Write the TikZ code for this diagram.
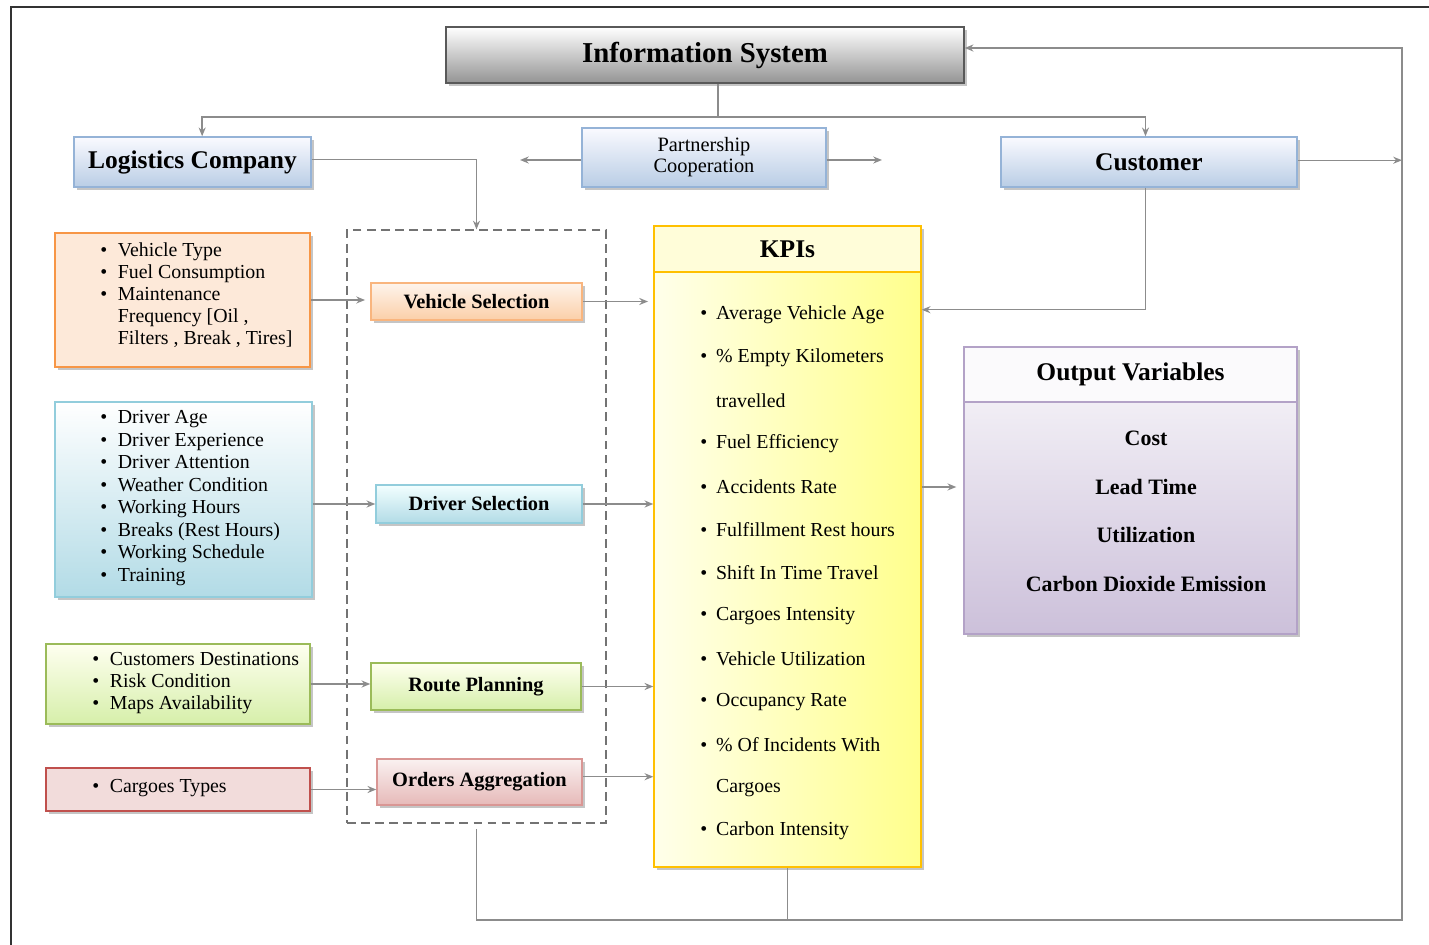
\documentclass[tikz,border=0pt]{standalone}
\usepackage{fontspec}
\setmainfont{Liberation Serif}
\usetikzlibrary{arrows.meta,shadows}

% palette
\definecolor{linegray}{HTML}{8C8C8C}
\definecolor{framegray}{HTML}{333333}
\definecolor{blueedge}{HTML}{95B3D7}
\definecolor{bluelow}{HTML}{B9CDE5}
\definecolor{orangeedge}{HTML}{F79646}
\definecolor{orangefill}{HTML}{FDE9D9}
\definecolor{orangelow}{HTML}{FBCFA8}
\definecolor{cyanedge}{HTML}{92CDDC}
\definecolor{cyanlow}{HTML}{B2DBE6}
\definecolor{greenedge}{HTML}{9BBB59}
\definecolor{greenlow}{HTML}{D6EFAA}
\definecolor{redfill}{HTML}{F2DCDB}
\definecolor{rededge}{HTML}{C0504D}
\definecolor{redlow}{HTML}{E6B9B8}
\definecolor{kpiedge}{HTML}{FFC000}
\definecolor{kpihigh}{HTML}{FFFF8C}
\definecolor{purpleedge}{HTML}{B3A2C7}
\definecolor{purplelow}{HTML}{CCC0DA}

\newcommand{\lbul}{\makebox[10pt][l]{\textbullet}}
\newcommand{\lgap}{\hspace*{10pt}}

\begin{document}
\begin{tikzpicture}[x=0.02cm,y=-0.02cm,
    >={Stealth[length=5pt,width=4pt]},
    conn/.style={draw=linegray, line width=0.8pt},
    box/.style={draw, line width=0.8pt, align=center, inner sep=2pt,
      drop shadow={shadow xshift=1.5pt, shadow yshift=-1.5pt, fill=black!45}},
    party/.style={box, draw=blueedge, top color=blue!2, bottom color=bluelow,
      font=\fontsize{14.5}{16}\selectfont\bfseries},
    selbox/.style={box, font=\fontsize{11.6}{13}\selectfont\bfseries},
    lst/.style={anchor=west, align=left, inner sep=0pt,
      font=\fontsize{11.3}{12.6}\selectfont},
    kpitxt/.style={anchor=west, inner sep=0pt, font=\fontsize{11.3}{13}\selectfont},
    outtxt/.style={inner sep=0pt, font=\fontsize{12.5}{14}\selectfont\bfseries}
  ]

  \useasboundingbox (0,0) rectangle (1429,945);

  % Page frame
  \draw[framegray, line width=1.1pt] (11,945) -- (11,7) -- (1429,7);

  % Top row
  \node[box, draw=black!65, top color=white, bottom color=black!42,
    minimum width=10.36cm, minimum height=1.12cm,
    font=\fontsize{16.4}{18}\selectfont\bfseries] (is) at (705,55) {Information System};
  \node[party, minimum width=4.74cm, minimum height=1cm] (lc) at (192.5,162) {Logistics Company};
  \node[party, minimum width=5.92cm, minimum height=1cm] (cu) at (1149,162) {Customer};
  \node[box, draw=blueedge, top color=blue!2, bottom color=bluelow,
    minimum width=4.88cm, minimum height=1.18cm,
    font=\fontsize{11.6}{12}\selectfont] (pc) at (704,157.5) {Partnership\\Cooperation};

  % Dashed frame round the selections
  \node[draw=black!55, dashed, dash pattern=on 5pt off 3pt, line width=0.7pt,
    minimum width=5.18cm, minimum height=11.86cm] (sel) at (476.5,526.5) {};

  % Input boxes
  \node[box, draw=orangeedge, fill=orangefill, minimum width=5.1cm, minimum height=2.68cm] (vin) at (182.5,300) {};
  \node[lst] at (100,295) {\lbul Vehicle Type\\ \lbul Fuel Consumption\\ \lbul Maintenance\\
    \lgap Frequency [Oil ,\\ \lgap Filters , Break , Tires]};

  \node[box, draw=cyanedge, top color=white, bottom color=cyanlow, minimum width=5.14cm, minimum height=3.9cm] (din) at (183.5,499.5) {};
  \node[lst, font=\fontsize{11.3}{12.8}\selectfont] at (100,498) {\lbul Driver Age\\ \lbul Driver Experience\\
    \lbul Driver Attention\\ \lbul Weather Condition\\ \lbul Working Hours\\
    \lbul Breaks (Rest Hours)\\ \lbul Working Schedule\\ \lbul Training};

  \node[box, draw=greenedge, top color=green!4!yellow!6, bottom color=greenlow, minimum width=5.28cm, minimum height=1.6cm] (rin) at (178,684) {};
  \node[lst] at (92,683) {\lbul Customers Destinations\\ \lbul Risk Condition\\ \lbul Maps Availability};

  \node[box, draw=rededge, fill=redfill, minimum width=5.28cm, minimum height=0.86cm] (cin) at (178,789.5) {};
  \node[lst] at (92,788) {\lbul Cargoes Types};

  % Selection steps
  \node[selbox, draw=orangeedge!70, top color=orangefill!50, bottom color=orangelow,
    minimum width=4.22cm, minimum height=0.74cm] (vs) at (476.5,301.5) {Vehicle Selection};
  \node[selbox, draw=cyanedge, top color=cyan!5, bottom color=cyanlow,
    minimum width=4.12cm, minimum height=0.76cm] (ds) at (479,504) {Driver Selection};
  \node[selbox, draw=greenedge, top color=green!4!yellow!6, bottom color=greenlow,
    minimum width=4.2cm, minimum height=0.94cm] (rp) at (476,686.5) {Route Planning};
  \node[selbox, draw=rededge!60, top color=redfill!40, bottom color=redlow,
    minimum width=4.1cm, minimum height=0.92cm] (oa) at (479.5,782) {Orders Aggregation};

  % KPIs
  \node[box, draw=kpiedge, left color=yellow!8, right color=kpihigh,
    minimum width=5.34cm, minimum height=12.82cm] (kpi) at (787.5,546.5) {};
  \node[draw=kpiedge, line width=0.8pt, fill=yellow!15, anchor=north,
    minimum width=5.34cm, minimum height=0.92cm,
    font=\fontsize{14.5}{16}\selectfont\bfseries] (kpih) at (kpi.north) {KPIs};
  \foreach \b/\t [count=\i] in {1/Average Vehicle Age, 1/\% Empty Kilometers, 0/travelled,
      1/Fuel Efficiency, 1/Accidents Rate, 1/Fulfillment Rest hours, 1/Shift In Time Travel,
      1/Cargoes Intensity, 1/Vehicle Utilization, 1/Occupancy Rate, 1/\% Of Incidents With,
      0/Cargoes, 1/Carbon Intensity}
    \node[kpitxt] (k\i) at (700,{315+43*(\i-1)})
      {\ifnum\b=1 \makebox[9pt][l]{\textbullet}\else\hspace*{9pt}\fi\t};

  % Output variables
  \node[box, draw=purpleedge, top color=purplelow!10, bottom color=purplelow,
    minimum width=6.66cm, minimum height=5.74cm] (ov) at (1130.5,490.5) {};
  \node[draw=purpleedge, line width=0.8pt, fill=purplelow!8, anchor=north,
    minimum width=6.66cm, minimum height=1.1cm,
    font=\fontsize{14.5}{16}\selectfont\bfseries] (ovh) at (ov.north) {Output Variables};
  \foreach \t [count=\i] in {Cost, Lead Time, Utilization, Carbon Dioxide Emission}
    \node[outtxt] (o\i) at (1146,{438+48.7*(\i-1)}) {\t};

  % Information System to both parties
  \coordinate (bus) at (718,117);
  \draw[conn] (is.south -| bus) -- (bus);
  \draw[conn,->] (bus) -| ([xshift=5.5pt]lc.north);
  \draw[conn,->] (bus) -| ([xshift=-2pt]cu.north);

  % Partnership both ways
  \coordinate (pcl) at (520,160);
  \coordinate (pcr) at (882,160);
  \draw[conn,->] (pc.west |- pcl) -- (pcl);
  \draw[conn,->] (pc.east |- pcr) -- (pcr);

  % Company into the selections
  \draw[conn,->] ([yshift=1.5pt]lc.east) -| (sel.north);

  % Feedback loop on the right
  \coordinate (ne) at (1402,48);
  \coordinate (se) at (1402,920);
  \draw[conn,->] ([yshift=1pt]cu.east) -- ([yshift=1pt]cu.east -| se);
  \draw[conn,->] ([yshift=-3pt]sel.south) |- (se) -- (ne) -- (ne -| is.east);
  \draw[conn] (kpi.south) -- (kpi.south |- se);

  % Customer into KPIs
  \draw[conn,->] ([xshift=-2pt]cu.south) |- ([yshift=3pt]kpi.east |- k1);

  % Inputs into selections
  \draw[conn,->] (vin.east) -- ([xshift=-3pt]vin.east -| vs.west);
  \draw[conn,->] (din.east |- ds.west) -- (ds.west);
  \draw[conn,->] (rin.east) -- (rin.east -| rp.west);
  \draw[conn,->] (cin.east) -- (cin.east -| oa.west);

  % Selections into KPIs
  \draw[conn,->] (vs.east) -- ([xshift=-3pt]vs.east -| kpi.west);
  \draw[conn,->] (ds.east) -- (ds.east -| kpi.west);
  \draw[conn,->] (rp.east) -- (rp.east -| kpi.west);
  \draw[conn,->] ([yshift=3pt]oa.east) -- ([yshift=3pt]oa.east -| kpi.west);

  % KPIs to outputs
  \draw[conn,->] ([yshift=2pt]kpi.east |- ov.west) -- ([xshift=-4pt,yshift=2pt]ov.west);
\end{tikzpicture}
\end{document}
